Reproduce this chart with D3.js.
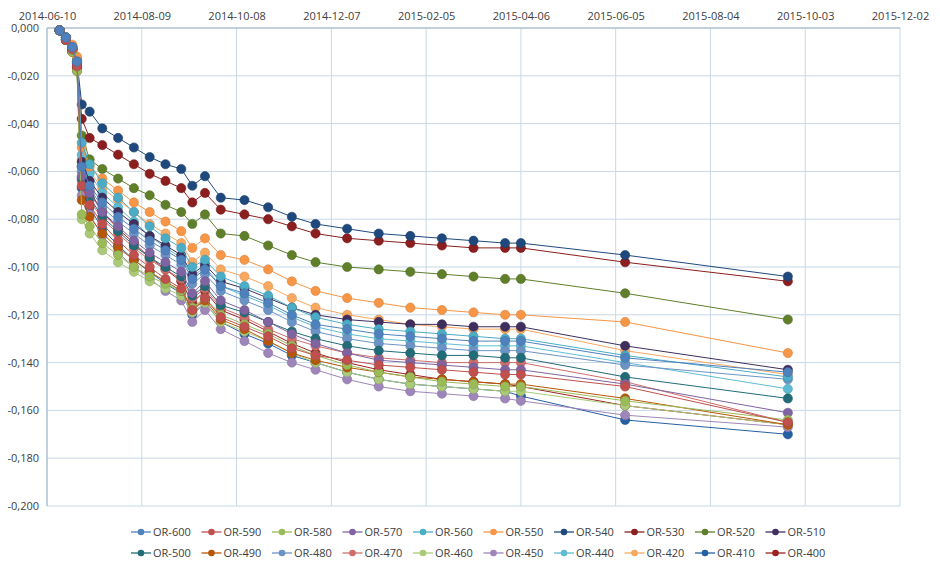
<!DOCTYPE html>
<html><head><meta charset="utf-8">
<script src="https://cdn.jsdelivr.net/npm/d3@7"></script>
<style>body{margin:0;background:#fff;font-family:"Open Sans",Calibri,sans-serif}</style>
</head><body><svg id="c" width="940" height="568"></svg>
<script>
const startDate = "2014-06-10";
const xTickLabels = ["2014-06-10","2014-08-09","2014-10-08","2014-12-07","2015-02-05","2015-04-06","2015-06-05","2015-08-04","2015-10-03","2015-12-02"];
const yTicks = [0,-0.02,-0.04,-0.06,-0.08,-0.1,-0.12,-0.14,-0.16,-0.18,-0.2];
const dayOffsets = [8,12,16,19,22,27,35,45,55,65,75,85,92,100,110,125,140,155,170,190,210,230,250,270,290,300,366,469];
const seriesNames = ["OR-600","OR-590","OR-580","OR-570","OR-560","OR-550","OR-540","OR-530","OR-520","OR-510","OR-500","OR-490","OR-480","OR-470","OR-460","OR-450","OR-440","OR-420","OR-410","OR-400"];
const seriesColors = ["#4F81BD","#C0504D","#9BBB59","#8064A2","#4BACC6","#F79646","#1F497D","#8B1E1E","#5F7F2A","#3F2F5E","#216C78","#B65708","#6C93C5","#CF6D6B","#AACA78","#9E86BA","#5DBCD2","#F9A860","#2660A4","#9C2222"];
const s600 = [-0.001,-0.004,-0.008,-0.014,-0.058,-0.066,-0.073,-0.079,-0.084,-0.089,-0.093,-0.097,-0.105,-0.101,-0.108,-0.111,-0.115,-0.120,-0.124,-0.126,-0.128,-0.129,-0.130,-0.131,-0.131,-0.131,-0.138,-0.144];
const s590 = [-0.001,-0.005,-0.009,-0.016,-0.066,-0.074,-0.082,-0.089,-0.095,-0.100,-0.105,-0.109,-0.118,-0.113,-0.121,-0.125,-0.129,-0.134,-0.137,-0.139,-0.141,-0.142,-0.143,-0.144,-0.145,-0.145,-0.150,-0.165];
const s580 = [-0.001,-0.005,-0.010,-0.018,-0.078,-0.083,-0.090,-0.095,-0.100,-0.104,-0.107,-0.110,-0.117,-0.113,-0.120,-0.124,-0.128,-0.133,-0.137,-0.141,-0.144,-0.146,-0.148,-0.149,-0.150,-0.150,-0.156,-0.164];
const s570 = [-0.001,-0.004,-0.008,-0.015,-0.062,-0.069,-0.077,-0.083,-0.089,-0.094,-0.098,-0.102,-0.111,-0.106,-0.114,-0.118,-0.123,-0.128,-0.132,-0.136,-0.139,-0.140,-0.141,-0.142,-0.143,-0.143,-0.149,-0.161];
const s560 = [-0.001,-0.004,-0.008,-0.014,-0.048,-0.057,-0.065,-0.071,-0.077,-0.083,-0.088,-0.092,-0.100,-0.097,-0.104,-0.108,-0.112,-0.117,-0.121,-0.124,-0.126,-0.127,-0.128,-0.129,-0.130,-0.130,-0.137,-0.146];
const s550 = [-0.001,-0.004,-0.007,-0.012,-0.050,-0.058,-0.063,-0.068,-0.073,-0.077,-0.081,-0.085,-0.092,-0.088,-0.095,-0.097,-0.101,-0.106,-0.110,-0.113,-0.115,-0.117,-0.118,-0.119,-0.120,-0.120,-0.123,-0.136];
const s540 = [-0.001,-0.004,-0.008,-0.014,-0.032,-0.035,-0.042,-0.046,-0.050,-0.054,-0.057,-0.059,-0.066,-0.062,-0.071,-0.072,-0.075,-0.079,-0.082,-0.084,-0.086,-0.087,-0.088,-0.089,-0.090,-0.090,-0.095,-0.104];
const s530 = [-0.001,-0.005,-0.009,-0.016,-0.038,-0.046,-0.049,-0.053,-0.057,-0.061,-0.064,-0.067,-0.073,-0.069,-0.076,-0.078,-0.080,-0.083,-0.086,-0.088,-0.089,-0.090,-0.091,-0.092,-0.092,-0.092,-0.098,-0.106];
const s520 = [-0.001,-0.004,-0.008,-0.013,-0.045,-0.055,-0.059,-0.063,-0.067,-0.070,-0.074,-0.077,-0.082,-0.078,-0.086,-0.087,-0.091,-0.095,-0.098,-0.100,-0.101,-0.102,-0.103,-0.104,-0.105,-0.105,-0.111,-0.122];
const s510 = [-0.001,-0.005,-0.009,-0.015,-0.056,-0.064,-0.071,-0.077,-0.082,-0.087,-0.091,-0.095,-0.103,-0.099,-0.106,-0.109,-0.113,-0.117,-0.120,-0.122,-0.123,-0.124,-0.124,-0.125,-0.125,-0.125,-0.133,-0.143];
const s500 = [-0.001,-0.005,-0.009,-0.016,-0.063,-0.071,-0.079,-0.085,-0.091,-0.096,-0.100,-0.104,-0.112,-0.108,-0.116,-0.119,-0.123,-0.127,-0.130,-0.133,-0.135,-0.136,-0.137,-0.137,-0.138,-0.138,-0.146,-0.155];
const s490 = [-0.001,-0.005,-0.010,-0.017,-0.072,-0.079,-0.086,-0.092,-0.097,-0.102,-0.106,-0.110,-0.118,-0.114,-0.122,-0.126,-0.131,-0.136,-0.139,-0.142,-0.144,-0.146,-0.147,-0.148,-0.149,-0.149,-0.155,-0.166];
const s480 = [-0.001,-0.004,-0.008,-0.015,-0.060,-0.067,-0.075,-0.081,-0.086,-0.091,-0.095,-0.099,-0.107,-0.103,-0.110,-0.114,-0.118,-0.123,-0.127,-0.130,-0.132,-0.133,-0.134,-0.135,-0.135,-0.135,-0.141,-0.147];
const s470 = [-0.001,-0.005,-0.009,-0.016,-0.064,-0.072,-0.080,-0.086,-0.092,-0.097,-0.101,-0.105,-0.113,-0.109,-0.117,-0.121,-0.126,-0.130,-0.133,-0.136,-0.138,-0.139,-0.140,-0.140,-0.140,-0.140,-0.148,-0.165];
const s460 = [-0.001,-0.005,-0.010,-0.018,-0.080,-0.086,-0.093,-0.098,-0.102,-0.106,-0.109,-0.112,-0.119,-0.115,-0.123,-0.127,-0.131,-0.136,-0.140,-0.144,-0.147,-0.149,-0.150,-0.151,-0.152,-0.152,-0.158,-0.166];
const s450 = [-0.001,-0.005,-0.010,-0.018,-0.070,-0.078,-0.087,-0.094,-0.100,-0.105,-0.110,-0.114,-0.123,-0.118,-0.126,-0.131,-0.136,-0.140,-0.143,-0.147,-0.150,-0.152,-0.153,-0.154,-0.155,-0.156,-0.162,-0.167];
const s440 = [-0.001,-0.004,-0.008,-0.015,-0.053,-0.061,-0.069,-0.075,-0.081,-0.087,-0.092,-0.096,-0.104,-0.100,-0.108,-0.112,-0.116,-0.121,-0.125,-0.128,-0.130,-0.131,-0.132,-0.133,-0.133,-0.133,-0.140,-0.151];
const s420 = [-0.001,-0.004,-0.008,-0.014,-0.055,-0.060,-0.067,-0.072,-0.077,-0.082,-0.086,-0.090,-0.098,-0.094,-0.101,-0.104,-0.108,-0.113,-0.117,-0.120,-0.122,-0.124,-0.125,-0.126,-0.126,-0.126,-0.135,-0.145];
const s410 = [-0.001,-0.005,-0.009,-0.017,-0.067,-0.075,-0.084,-0.091,-0.097,-0.102,-0.107,-0.111,-0.120,-0.115,-0.123,-0.128,-0.132,-0.137,-0.140,-0.144,-0.147,-0.149,-0.150,-0.151,-0.152,-0.154,-0.164,-0.170];
const s400 = [-0.001,-0.005,-0.009,-0.016,-0.058,-0.068,-0.077,-0.084,-0.090,-0.096,-0.101,-0.106,-0.115,-0.110,-0.118,-0.122,-0.127,-0.132,-0.136,-0.140,-0.143,-0.145,-0.147,-0.148,-0.149,-0.150,-0.158,-0.166];
const seriesValues = [s600,s590,s580,s570,s560,s550,s540,s530,s520,s510,s500,s490,s480,s470,s460,s450,s440,s420,s410,s400];

const svg = d3.select("#c");
const L=47,R=900,T=28,B=506;
const parse = d3.timeParse("%Y-%m-%d");
const t0 = parse(startDate);
const x = d3.scaleTime().domain([t0, parse("2015-12-02")]).range([L,R]);
const y = d3.scaleLinear().domain([-0.2,0]).range([B,T]);
const dates = dayOffsets.map(d=>d3.timeDay.offset(t0,d));
const fmt = v => d3.format(".3f")(v).replace("−","-").replace(".",",");

const grid = svg.append("g");
yTicks.forEach(v=>grid.append("line").attr("x1",L).attr("x2",R).attr("y1",y(v)).attr("y2",y(v)).attr("stroke","#C8D8E6"));
xTickLabels.forEach(s=>grid.append("line").attr("x1",x(parse(s))).attr("x2",x(parse(s))).attr("y1",T).attr("y2",B).attr("stroke","#C8D8E6"));
grid.append("line").attr("x1",L).attr("x2",L).attr("y1",T).attr("y2",B).attr("stroke","#9FB4C8");
grid.append("line").attr("x1",L).attr("x2",R).attr("y1",T).attr("y2",T).attr("stroke","#9FB4C8");

const xa = d3.axisTop(x).tickValues(xTickLabels.map(parse)).tickFormat(d3.timeFormat("%Y-%m-%d")).tickSize(0).tickPadding(8);
svg.append("g").attr("transform",`translate(0,${T})`).call(xa).call(g=>{g.select(".domain").remove();g.selectAll("text").attr("font-size",11).attr("fill","#404040").attr("font-family","Open Sans, sans-serif");});
const ya = d3.axisLeft(y).tickValues(yTicks).tickFormat(fmt).tickSize(0).tickPadding(8);
svg.append("g").attr("transform",`translate(${L},0)`).call(ya).call(g=>{g.select(".domain").remove();g.selectAll("text").attr("font-size",11).attr("fill","#404040").attr("font-family","Open Sans, sans-serif");});

const line = d3.line().x((d,i)=>x(dates[i])).y(d=>y(d));
const order = d3.range(seriesNames.length).reverse();
order.forEach(k=>{
  const g = svg.append("g");
  g.append("path").attr("d",line(seriesValues[k])).attr("fill","none").attr("stroke",seriesColors[k]).attr("stroke-width",1);
  g.selectAll("circle").data(seriesValues[k]).join("circle")
    .attr("cx",(d,i)=>x(dates[i])).attr("cy",d=>y(d)).attr("r",4.6)
    .attr("fill",seriesColors[k]).attr("stroke",d3.color(seriesColors[k]).darker(0.4)).attr("stroke-width",0.6);
});

const leg = svg.append("g");
seriesNames.forEach((n,i)=>{
  const row = Math.floor(i/10), col = i%10;
  const lx = 131 + col*70.5, ly = 532 + row*21;
  leg.append("line").attr("x1",lx).attr("x2",lx+20).attr("y1",ly).attr("y2",ly).attr("stroke",seriesColors[i]).attr("stroke-width",1.3);
  leg.append("circle").attr("cx",lx+10).attr("cy",ly).attr("r",3.3).attr("fill",seriesColors[i]);
  leg.append("text").attr("x",lx+22).attr("y",ly+4).attr("font-size",11).attr("fill","#404040").text(n);
});
</script></body></html>
